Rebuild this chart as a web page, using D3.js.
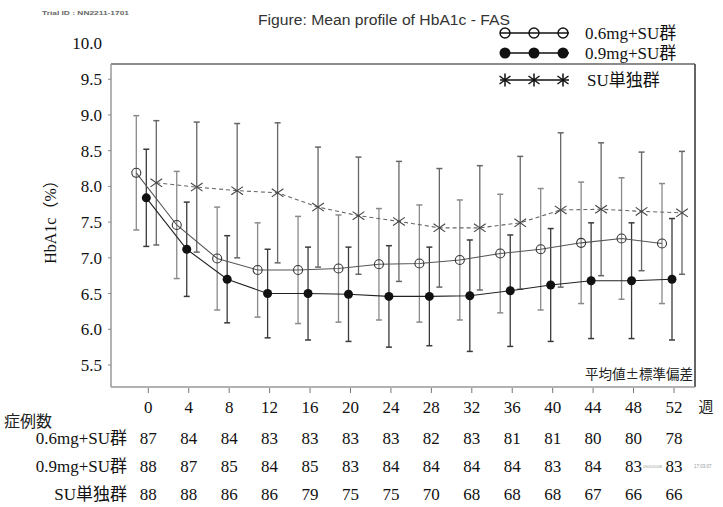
<!DOCTYPE html>
<html>
<head>
<meta charset="utf-8">
<script src="https://cdn.jsdelivr.net/npm/d3@7"></script>
<style>
  body { margin: 0; background: #fff; }
  svg { display: block; }
</style>
</head>
<body>
<svg id="chart" width="723" height="507"></svg>
<script>
const weeks = [0, 4, 8, 12, 16, 20, 24, 28, 32, 36, 40, 44, 48, 52];
const seriesNames = ["0.6mg+SU群", "0.9mg+SU群", "SU単独群"];

const mean06 = [8.19, 7.46, 6.99, 6.83, 6.83, 6.85, 6.91, 6.92, 6.97, 7.06, 7.12, 7.21, 7.27, 7.20];
const sd06 = [0.80, 0.75, 0.72, 0.66, 0.75, 0.75, 0.78, 0.82, 0.84, 0.83, 0.85, 0.85, 0.85, 0.84];
const mean09 = [7.84, 7.12, 6.70, 6.50, 6.50, 6.49, 6.46, 6.46, 6.47, 6.54, 6.62, 6.68, 6.68, 6.70];
const sd09 = [0.68, 0.66, 0.61, 0.62, 0.65, 0.66, 0.71, 0.69, 0.78, 0.78, 0.79, 0.81, 0.81, 0.85];
const meanSU = [8.05, 7.99, 7.94, 7.91, 7.71, 7.59, 7.51, 7.42, 7.42, 7.49, 7.67, 7.68, 7.65, 7.63];
const sdSU = [0.87, 0.91, 0.94, 0.98, 0.84, 0.82, 0.84, 0.83, 0.87, 0.93, 1.08, 0.93, 0.83, 0.86];

const n06 = [87, 84, 84, 83, 83, 83, 83, 82, 83, 81, 81, 80, 80, 78];
const n09 = [88, 87, 85, 84, 85, 83, 84, 84, 84, 84, 83, 84, 83, 83];
const nSU = [88, 88, 86, 86, 79, 75, 75, 70, 68, 68, 68, 67, 66, 66];

const yTicks = [5.5, 6.0, 6.5, 7.0, 7.5, 8.0, 8.5, 9.0, 9.5, 10.0];

const SERIF = "'Liberation Serif', 'Times New Roman', 'DejaVu Serif', 'Noto Sans CJK JP', serif";
const CJK = "'Noto Sans CJK JP', sans-serif";
const SANS = "'Liberation Sans', Arial, sans-serif";

const svg = d3.select("#chart");
const frame = { left: 111, right: 695, top: 64, bottom: 387 };

const x = d3.scaleLinear().domain([0, 52]).range([148.3, 674]);
const y = d3.scaleLinear().domain([5.5, 10]).range([365, 43.5]);

// group settings (marker style, horizontal shift)
const series = [
  { name: seriesNames[0], mean: mean06, sd: sd06, n: n06, dx: -12, marker: "open", bar: "#8a8a8a", line: "#555", dash: null },
  { name: seriesNames[1], mean: mean09, sd: sd09, n: n09, dx: -2, marker: "filled", bar: "#3a3a3a", line: "#222", dash: null },
  { name: seriesNames[2], mean: meanSU, sd: sdSU, n: nSU, dx: 8, marker: "star", bar: "#666", line: "#666", dash: "4,3" }
];

svg.append("rect").attr("width", 723).attr("height", 507).attr("fill", "#fff");

// header texts
svg.append("text")
  .attr("x", 42).attr("y", 15)
  .attr("font-family", SANS)
  .attr("font-size", 6).attr("font-weight", "bold").attr("fill", "#666")
  .attr("textLength", 87).attr("lengthAdjust", "spacingAndGlyphs")
  .text("Trial ID : NN2211-1701");

svg.append("text")
  .attr("x", 258).attr("y", 25)
  .attr("font-family", SANS)
  .attr("font-size", 14).attr("fill", "#333")
  .attr("textLength", 252).attr("lengthAdjust", "spacingAndGlyphs")
  .text("Figure: Mean profile of HbA1c - FAS");

// frame
svg.append("line").attr("x1", frame.left).attr("x2", frame.right).attr("y1", frame.top).attr("y2", frame.top)
  .attr("stroke", "#666").attr("stroke-width", 1.5);
svg.append("line").attr("x1", frame.right).attr("x2", frame.right).attr("y1", frame.top).attr("y2", frame.bottom)
  .attr("stroke", "#555").attr("stroke-width", 1.8);
svg.append("line").attr("x1", frame.left).attr("x2", frame.left).attr("y1", frame.top).attr("y2", frame.bottom)
  .attr("stroke", "#999").attr("stroke-width", 1.5);
svg.append("line").attr("x1", frame.left).attr("x2", frame.right).attr("y1", frame.bottom).attr("y2", frame.bottom)
  .attr("stroke", "#999").attr("stroke-width", 1.5);

// y axis
const yAxis = svg.append("g");
yAxis.selectAll("line")
  .data(yTicks.filter(v => y(v) > frame.top))
  .join("line")
  .attr("x1", frame.left - 3).attr("x2", frame.left)
  .attr("y1", d => y(d)).attr("y2", d => y(d))
  .attr("stroke", "#888");
yAxis.selectAll("text")
  .data(yTicks)
  .join("text")
  .attr("font-family", SERIF)
  .attr("x", 102).attr("y", d => y(d)).attr("dy", "0.35em")
  .attr("text-anchor", "end").attr("font-size", 17).attr("fill", "#111")
  .text(d => d.toFixed(1));

svg.append("text")
  .attr("font-family", SERIF)
  .attr("transform", "translate(56,218) rotate(-90)")
  .attr("text-anchor", "middle").attr("font-size", 16).attr("fill", "#111")
  .text("HbA1c（%）");

// x axis
const xAxis = svg.append("g");
xAxis.selectAll("line")
  .data(weeks)
  .join("line")
  .attr("x1", d => x(d)).attr("x2", d => x(d))
  .attr("y1", frame.bottom + 1).attr("y2", frame.bottom + 6)
  .attr("stroke", "#777");
xAxis.selectAll("text")
  .data(weeks)
  .join("text")
  .attr("font-family", SERIF)
  .attr("x", d => x(d)).attr("y", 407).attr("dy", "0.35em")
  .attr("text-anchor", "middle").attr("font-size", 17).attr("fill", "#111")
  .text(d => d);
svg.append("text")
  .attr("font-family", CJK)
  .attr("x", 706).attr("y", 407).attr("dy", "0.35em")
  .attr("text-anchor", "middle").attr("font-size", 15).attr("fill", "#222")
  .text("週");

svg.append("text")
  .attr("font-family", CJK)
  .attr("x", 693).attr("y", 374).attr("dy", "0.35em")
  .attr("text-anchor", "end").attr("font-size", 13.5).attr("fill", "#222")
  .text("平均値±標準偏差");

// error bars
const plot = svg.append("g");
series.forEach(s => {
  const g = plot.append("g");
  const pts = weeks.map((w, i) => ({ w, m: s.mean[i], sd: s.sd[i] }));
  g.selectAll("line.bar")
    .data(pts)
    .join("line")
    .attr("class", "bar")
    .attr("x1", d => x(d.w) + s.dx).attr("x2", d => x(d.w) + s.dx)
    .attr("y1", d => y(d.m + d.sd)).attr("y2", d => y(d.m - d.sd))
    .attr("stroke", s.bar).attr("stroke-width", 1.3);
  [1, -1].forEach(sign => {
    g.selectAll("line.cap" + (sign > 0 ? "Hi" : "Lo"))
      .data(pts)
      .join("line")
      .attr("class", "cap" + (sign > 0 ? "Hi" : "Lo"))
      .attr("x1", d => x(d.w) + s.dx - 3).attr("x2", d => x(d.w) + s.dx + 3)
      .attr("y1", d => y(d.m + sign * d.sd)).attr("y2", d => y(d.m + sign * d.sd))
      .attr("stroke", s.bar).attr("stroke-width", 1.5);
  });
});

// mean lines
series.forEach(s => {
  const line = d3.line()
    .x((d, i) => x(weeks[i]) + s.dx)
    .y(d => y(d));
  plot.append("path")
    .attr("d", line(s.mean))
    .attr("fill", "none")
    .attr("stroke", s.line)
    .attr("stroke-width", 1.1)
    .attr("stroke-dasharray", s.dash);
});

function drawMarker(g, type, cx, cy, size) {
  if (type === "open") {
    g.append("circle").attr("cx", cx).attr("cy", cy).attr("r", size)
      .attr("fill", "none").attr("stroke", "#333").attr("stroke-width", 1.1);
  } else if (type === "filled") {
    g.append("circle").attr("cx", cx).attr("cy", cy).attr("r", size)
      .attr("fill", "#111");
  } else {
    const w = size * 1.3, h = size * 0.9;
    g.append("path")
      .attr("d", `M${cx - w},${cy - h}L${cx + w},${cy + h}M${cx - w},${cy + h}L${cx + w},${cy - h}`)
      .attr("stroke", "#444").attr("stroke-width", 1.1).attr("fill", "none");
  }
}

series.forEach(s => {
  const g = plot.append("g");
  weeks.forEach((w, i) => drawMarker(g, s.marker, x(w) + s.dx, y(s.mean[i]), 4.5));
});

// legend
const legendRows = [33, 53, 80];
const legend = svg.append("g");
series.forEach((s, k) => {
  const ly = legendRows[k];
  legend.append("line").attr("x1", 500).attr("x2", 569).attr("y1", ly).attr("y2", ly)
    .attr("stroke", "#111").attr("stroke-width", 1.5);
  [505, 534, 563].forEach(cx => {
    if (s.marker === "star") {
      legend.append("path")
        .attr("d", `M${cx},${ly - 6.5}L${cx},${ly + 6.5}M${cx - 5.5},${ly - 4}L${cx + 5.5},${ly + 4}M${cx - 5.5},${ly + 4}L${cx + 5.5},${ly - 4}`)
        .attr("stroke", "#111").attr("stroke-width", 1.5);
    } else if (s.marker === "open") {
      legend.append("circle").attr("cx", cx).attr("cy", ly).attr("r", 5)
        .attr("fill", "none").attr("stroke", "#111").attr("stroke-width", 1.4);
    } else {
      legend.append("circle").attr("cx", cx).attr("cy", ly).attr("r", 5.5).attr("fill", "#111");
    }
  });
  legend.append("text")
    .attr("font-family", SERIF)
    .attr("x", s.marker === "star" ? 587 : 585).attr("y", ly).attr("dy", "0.35em")
    .attr("font-size", 17).attr("fill", "#111")
    .text(s.name);
});

// patient count table
svg.append("text")
  .attr("font-family", CJK)
  .attr("x", 4).attr("y", 421).attr("dy", "0.35em")
  .attr("font-size", 16).attr("fill", "#222")
  .text("症例数");

const rowY = [438, 466, 494];
series.forEach((s, k) => {
  const row = svg.append("g");
  row.append("text")
    .attr("font-family", SERIF)
    .attr("x", 127).attr("y", rowY[k]).attr("dy", "0.35em")
    .attr("text-anchor", "end").attr("font-size", 17).attr("fill", "#111")
    .text(s.name);
  row.selectAll("text.n")
    .data(s.n)
    .join("text")
    .attr("class", "n")
    .attr("font-family", SERIF)
    .attr("x", (d, i) => x(weeks[i])).attr("y", rowY[k]).attr("dy", "0.35em")
    .attr("text-anchor", "middle").attr("font-size", 17).attr("fill", "#111")
    .text(d => d);
});

// faint print stamp
svg.append("text").attr("x", 643).attr("y", 468)
  .attr("font-family", SANS).attr("font-size", 4).attr("fill", "#999")
  .text("0905/2008");
svg.append("text").attr("x", 694).attr("y", 468)
  .attr("font-family", SANS).attr("font-size", 4.5).attr("fill", "#999")
  .text("17:03:07");
</script>
</body>
</html>
